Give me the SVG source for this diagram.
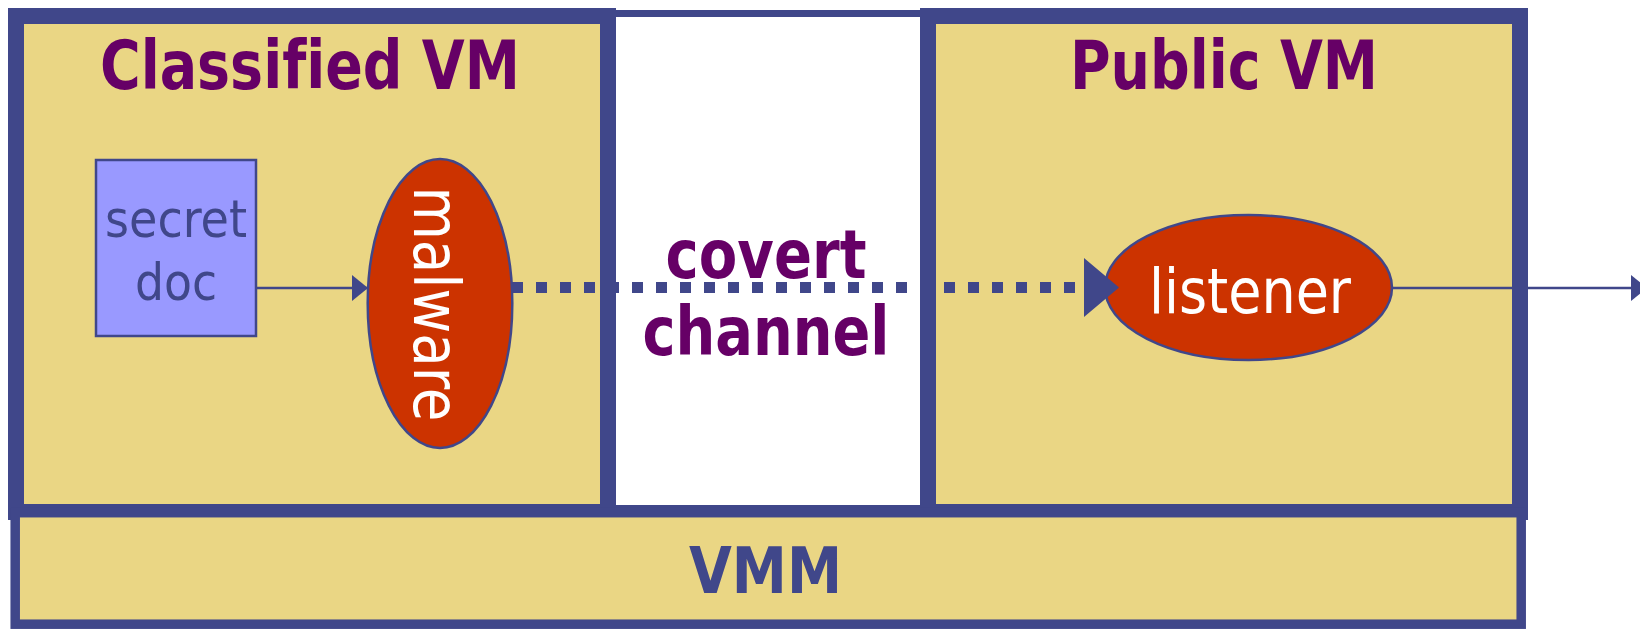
<svg xmlns="http://www.w3.org/2000/svg" width="1640" height="629" viewBox="0 0 1640 629">
  <style>
    .vm { fill: #ead684; stroke: #40478a; stroke-width: 16; }
    .vmm { fill: #ead684; stroke: #40478a; stroke-width: 9.5; }
    .gap { fill: #ffffff; stroke: #40478a; stroke-width: 7; }
    .proc { fill: #cc3300; stroke: #40478a; stroke-width: 2.5; }
    .doc { fill: #9999ff; stroke: #40478a; stroke-width: 2.5; }
    text { font-variant-ligatures: none; }
    .title { font-family: "DejaVu Sans Condensed", "DejaVu Sans", sans-serif; font-weight: bold; fill: #660066; text-anchor: middle; }
    .label { font-family: "DejaVu Sans Condensed", "DejaVu Sans", sans-serif; text-anchor: middle; }
    .thin { stroke: #40478a; stroke-width: 2.5; fill: none; }
    .dots { stroke: #40478a; stroke-width: 11; fill: none; stroke-dasharray: 11 13; }
  </style>
  <defs>
    <marker id="head" markerUnits="userSpaceOnUse" markerWidth="16" markerHeight="26" refX="16" refY="13" orient="auto">
      <path d="M0,0 L16,13 L0,26 Z" fill="#40478a"/>
    </marker>
    <marker id="bighead" markerUnits="userSpaceOnUse" markerWidth="36" markerHeight="60" refX="-8" refY="29.5" orient="auto">
      <path d="M0,0 L35,29.5 L0,59 Z" fill="#40478a"/>
    </marker>
  </defs>
  <rect width="1640" height="629" fill="#ffffff"/>

  <!-- space between the two virtual machines -->
  <g id="channel-zone">
    <rect class="gap" x="612" y="13.5" width="312" height="495"/>
    <text class="title" x="766" y="278" font-size="68" textLength="201" lengthAdjust="spacingAndGlyphs">covert</text>
    <text class="title" x="766" y="355" font-size="67" textLength="247" lengthAdjust="spacingAndGlyphs">channel</text>
  </g>

  <g id="classified-vm">
    <rect class="vm" x="16" y="16" width="592" height="496"/>
    <text class="title" x="310" y="89" font-size="67" textLength="420" lengthAdjust="spacingAndGlyphs">Classified VM</text>
  </g>

  <g id="public-vm">
    <rect class="vm" x="928" y="16" width="592" height="496"/>
    <text class="title" x="1224" y="89" font-size="67" textLength="308" lengthAdjust="spacingAndGlyphs">Public VM</text>
  </g>

  <g id="vmm">
    <rect class="vmm" x="15.2" y="512.7" width="1506" height="111.5"/>
    <text class="title" x="765.5" y="593" font-size="64" style="fill:#40478a" textLength="153" lengthAdjust="spacingAndGlyphs">VMM</text>
  </g>

  <g id="secret-doc">
    <rect class="doc" x="96" y="160" width="160" height="176"/>
    <text class="label" x="176" y="237" font-size="51" fill="#40478a" textLength="142" lengthAdjust="spacingAndGlyphs">secret</text>
    <text class="label" x="176" y="300" font-size="51" fill="#40478a" textLength="82" lengthAdjust="spacingAndGlyphs">doc</text>
  </g>

  <g id="malware">
    <ellipse class="proc" cx="440" cy="303.5" rx="72.3" ry="144.5"/>
    <text class="label" transform="translate(414,304) rotate(90)" x="0" y="0" font-size="64" fill="#ffffff" textLength="235" lengthAdjust="spacingAndGlyphs">malware</text>
  </g>

  <g id="listener">
    <ellipse class="proc" cx="1248.5" cy="287.5" rx="143.5" ry="72.5"/>
    <text class="label" x="1250" y="313" font-size="63" fill="#ffffff" textLength="202" lengthAdjust="spacingAndGlyphs">listener</text>
  </g>

  <g id="connectors">
    <line class="thin" x1="256" y1="288" x2="368" y2="288" marker-end="url(#head)"/>
    <line class="dots" x1="512" y1="287.5" x2="1076" y2="287.5" marker-end="url(#bighead)"/>
    <line class="thin" x1="1392" y1="288" x2="1647" y2="288" marker-end="url(#head)"/>
  </g>
</svg>
